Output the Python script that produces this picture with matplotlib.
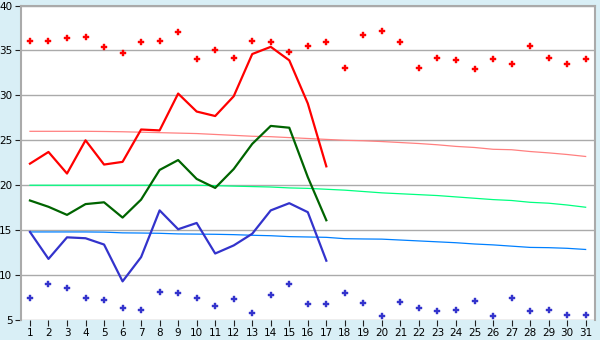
import matplotlib
matplotlib.use("Agg")
import matplotlib.pyplot as plt

days = list(range(1, 32))

# record highs / lows per day (markers)
rec_max = [36.0, 36.0, 36.4, 36.5, 35.4, 34.7, 35.9, 36.1, 37.0, 34.1,
           35.0, 34.2, 36.0, 35.9, 34.8, 35.5, 35.9, 33.0, 36.7, 37.2,
           35.9, 33.0, 34.2, 33.9, 32.9, 34.0, 33.5, 35.5, 34.2, 33.5, 34.0]
rec_min = [7.5, 9.0, 8.6, 7.5, 7.2, 6.3, 6.1, 8.1, 8.0, 7.5,
           6.6, 7.3, 5.8, 7.8, 9.0, 6.8, 6.8, 8.0, 6.9, 5.4,
           7.0, 6.3, 6.0, 6.1, 7.1, 5.5, 7.4, 6.0, 6.1, 5.6, 5.6]

# this month's daily values (days 1-17)
obs_days = list(range(1, 18))
obs_max = [22.4, 23.7, 21.3, 25.0, 22.3, 22.6, 26.2, 26.1, 30.2, 28.2,
           27.7, 29.9, 34.6, 35.4, 33.9, 29.1, 22.1]
obs_mean = [18.3, 17.6, 16.7, 17.9, 18.1, 16.4, 18.4, 21.7, 22.8, 20.7,
            19.7, 21.8, 24.6, 26.6, 26.4, 20.9, 16.1]
obs_min = [14.8, 11.8, 14.2, 14.1, 13.4, 9.3, 12.0, 17.2, 15.1, 15.8,
           12.4, 13.3, 14.6, 17.2, 18.0, 17.0, 11.6]

# long-term normals
norm_max = [26.0, 26.0, 26.0, 26.0, 25.98, 25.95, 25.9, 25.85, 25.8, 25.75,
            25.65, 25.55, 25.45, 25.4, 25.3, 25.2, 25.1, 25.0, 24.95, 24.86,
            24.75, 24.64, 24.5, 24.32, 24.2, 24.0, 23.95, 23.75, 23.6, 23.42, 23.2]
norm_mean = [20.0] * 10 + [19.95, 19.9, 19.85, 19.8, 19.7, 19.65, 19.55, 19.45,
                           19.3, 19.15, 19.05, 18.95, 18.85, 18.7, 18.55, 18.4,
                           18.3, 18.1, 18.0, 17.8, 17.55]
norm_min = [14.8, 14.8, 14.8, 14.8, 14.78, 14.7, 14.68, 14.65, 14.58, 14.56,
            14.54, 14.5, 14.43, 14.38, 14.28, 14.24, 14.2, 14.05, 14.02, 14.0,
            13.9, 13.8, 13.7, 13.6, 13.46, 13.36, 13.22, 13.08, 13.05, 12.98, 12.85]

bg = "#d9eff6"
fig = plt.figure(figsize=(6, 3.4), dpi=100, facecolor=bg)
ax = fig.add_axes([0.0345, 0.0588, 0.957, 0.925])
ax.set_facecolor("white")

ax.plot(days, norm_max, color="#ff8080", lw=0.9)
ax.plot(days, norm_mean, color="#00ff80", lw=0.9)
ax.plot(days, norm_min, color="#0080ff", lw=0.9)

ax.plot(obs_days, obs_max, color="#ff0000", lw=1.6)
ax.plot(obs_days, obs_mean, color="#006400", lw=1.6)
ax.plot(obs_days, obs_min, color="#3333cc", lw=1.6)

ax.plot(days, rec_max, ls="none", marker="P", ms=4.5, color="#ff0000", mew=0.3)
ax.plot(days, rec_min, ls="none", marker="P", ms=4.5, color="#3333cc", mew=0.3)

ax.set_xlim(0.5, 31.5)
ax.set_ylim(5, 40)
ax.set_xticks(days)
ax.set_yticks(range(5, 41, 5))
ax.yaxis.grid(True, color="#aaaaaa", lw=1.0)
ax.set_axisbelow(True)

for s in ["top", "right", "left"]:
    ax.spines[s].set_color("#aaaaaa")
    ax.spines[s].set_linewidth(1.5)
ax.spines["bottom"].set_visible(False)
ax.tick_params(axis="both", labelsize=7.5, length=4, width=0.8, color="#222222", pad=2)

fig.savefig("out.png", dpi=100, facecolor=bg)
